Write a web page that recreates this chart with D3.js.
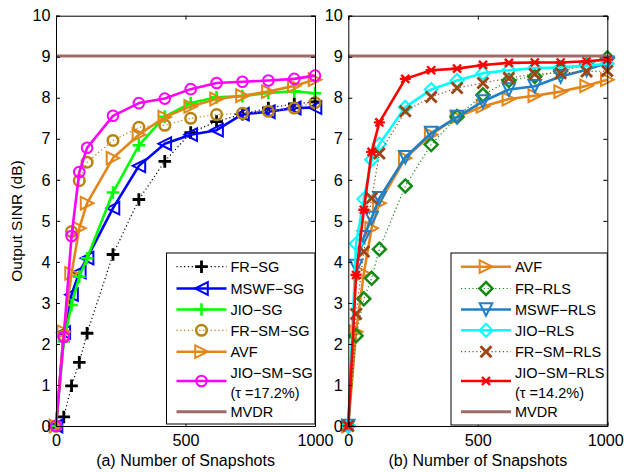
<!DOCTYPE html>
<html><head><meta charset="utf-8">
<script src="https://cdn.jsdelivr.net/npm/d3@7"></script>
<style>
html,body{margin:0;padding:0;background:#fff;}
svg{display:block;font-family:"Liberation Sans",Arial,sans-serif;}
</style></head>
<body>
<svg id="chart" width="624" height="472"></svg>
<script>
// ---------- data ----------
const snapshots = [0, 30, 60, 90, 120, 220, 320, 420, 520, 620, 720, 820, 920, 1000];
const xTicks = [0, 500, 1000];
const yTicks = [0,1,2,3,4,5,6,7,8,9,10];
const mvdrValue = 9.02;

// panel (a)
const frSG     = [0, 0.22, 0.98, 1.55, 2.26, 4.18, 5.52, 6.45, 7.15, 7.42, 7.60, 7.75, 7.85, 7.90];
const mswfSG   = [0, 2.28, 3.20, 3.75, 4.09, 5.31, 6.34, 6.88, 7.10, 7.21, 7.60, 7.66, 7.75, 7.76];
const jioSG    = [0, 2.06, 2.95, 3.64, 4.09, 5.69, 6.84, 7.54, 7.87, 8.01, 8.04, 8.12, 8.16, 8.11];
const frSmSG   = [0, 2.20, 4.74, 5.98, 6.43, 6.96, 7.28, 7.33, 7.50, 7.59, 7.62, 7.67, 7.75, 7.88];
const avf      = [0, 2.30, 3.72, 4.82, 5.43, 6.53, 7.10, 7.53, 7.79, 7.97, 8.05, 8.15, 8.29, 8.44];
const jioSmSG  = [0, 2.17, 4.63, 6.19, 6.78, 7.56, 7.87, 7.98, 8.21, 8.36, 8.39, 8.42, 8.46, 8.54];

// panel (b)
const frRLS    = [0, 2.20, 3.10, 3.60, 4.31, 5.85, 6.86, 7.54, 8.07, 8.42, 8.52, 8.65, 8.80, 8.97];
const mswfRLS  = [0, 3.90, 4.60, 5.07, 5.55, 6.55, 7.14, 7.53, 7.91, 8.20, 8.28, 8.52, 8.68, 8.85];
const jioRLS   = [0, 4.44, 5.53, 6.49, 6.87, 7.77, 8.20, 8.42, 8.60, 8.67, 8.72, 8.74, 8.78, 8.83];
const frSmRLS  = [0, 2.73, 4.25, 5.55, 6.64, 7.67, 8.02, 8.24, 8.36, 8.48, 8.58, 8.60, 8.64, 8.65];
const jioSmRLS = [0, 3.68, 5.27, 6.68, 7.40, 8.46, 8.67, 8.71, 8.80, 8.85, 8.86, 8.86, 8.89, 8.93];

const legendA = ["FR\u2212SG","MSWF\u2212SG","JIO\u2212SG","FR\u2212SM\u2212SG","AVF","JIO\u2212SM\u2212SG|(\u03c4 =17.2%)","MVDR"];
const legendB = ["AVF","FR\u2212RLS","MSWF\u2212RLS","JIO\u2212RLS","FR\u2212SM\u2212RLS","JIO\u2212SM\u2212RLS|(\u03c4 =14.2%)","MVDR"];
const xLabels = ["(a) Number of Snapshots","(b) Number of Snapshots"];
const yLabel = "Output SINR (dB)";

// ---------- styles ----------
const C = {black:"#000000", blue:"#0000ff", green:"#00ff00", gold:"#b8820f", orange:"#e2861a",
  magenta:"#ff00ff", mvdr:"#9e6b68", dgreen:"#138a13", mblue:"#1f80c8", cyan:"#00ffff",
  brown:"#9c4616", red:"#ff0000"};

const seriesA = [
  {vals:frSG,    color:C.black,  dash:true,  marker:"plus",  mw:2.8},
  {vals:mswfSG,  color:C.blue,   dash:false, marker:"tleft", mw:2},
  {vals:jioSG,   color:C.green,  dash:false, marker:"plus",  mw:2.5},
  {vals:frSmSG,  color:C.gold,   dash:true,  marker:"circle",mw:2.5},
  {vals:avf,     color:C.orange, dash:false, marker:"tright",mw:2},
  {vals:jioSmSG, color:C.magenta,dash:false, marker:"circle",mw:2},
];
const seriesB = [
  {vals:avf,     color:C.orange, dash:false, marker:"tright",mw:2},
  {vals:frRLS,   color:C.dgreen, dash:true,  marker:"diamond",mw:2.5},
  {vals:mswfRLS, color:C.mblue,  dash:false, marker:"tdown", mw:2},
  {vals:jioRLS,  color:C.cyan,   dash:false, marker:"diamond",mw:2},
  {vals:frSmRLS, color:C.brown,  dash:true,  marker:"cross", mw:2.8},
  {vals:jioSmRLS,color:C.red,    dash:false, marker:"star",  mw:2.4},
];

function markerPath(type){
  const s=6.3;
  switch(type){
    case "plus": return `M${-s},0L${s},0M0,${-s}L0,${s}`;
    case "cross": {const t=5.5; return `M${-t},${-t}L${t},${t}M${-t},${t}L${t},${-t}`;}
    case "star": {const t=5.5,u=4; return `M${-u},${-u}L${u},${u}M${-u},${u}L${u},${-u}M${-t},0L${t},0`;}
    case "tleft": return `M${-s},0L${s},${-s}L${s},${s}Z`;
    case "tright": return `M${s},0L${-s},${-s}L${-s},${s}Z`;
    case "tdown": return `M0,${s}L${-s},${-s}L${s},${-s}Z`;
    case "diamond": {const d=6.5; return `M0,${-d}L${d},0L0,${d}L${-d},0Z`;}
  }
  return "";
}
function drawMarker(g,type,x,y,color,mw){
  if(type==="circle"){
    g.append("circle").attr("cx",x).attr("cy",y).attr("r",5.3)
      .attr("fill","none").attr("stroke",color).attr("stroke-width",mw);
  } else {
    g.append("path").attr("d",markerPath(type)).attr("transform",`translate(${x},${y})`)
      .attr("fill","none").attr("stroke",color).attr("stroke-width",mw).attr("stroke-linejoin","miter");
  }
}

const svg = d3.select("#chart");
const y = d3.scaleLinear().domain([0,10]).range([426,15.7]);

const panels = [
  {x: d3.scaleLinear().domain([0,1000]).range([56,315]), series:seriesA, legend:legendA, label:xLabels[0],
   box:{x0:166.5,x1:315,y0:253,y1:424}},
  {x: d3.scaleLinear().domain([0,1000]).range([348.3,607.3]), series:seriesB, legend:legendB, label:xLabels[1],
   box:{x0:451,x1:607.3,y0:253,y1:425}},
];

panels.forEach((p,pi)=>{
  const g = svg.append("g");
  const [xa,xb] = p.x.range(), [ya,yb]=[y(0),y(10)];
  g.append("rect").attr("x",xa).attr("y",yb).attr("width",xb-xa).attr("height",ya-yb).attr("fill","#fff");
  const line = d3.line().x((d,i)=>p.x(snapshots[i])).y(d=>y(d));
  p.series.forEach(s=>{
    const path = g.append("path").datum(s.vals).attr("d",line).attr("fill","none")
      .attr("stroke",s.color);
    if(s.dash) path.attr("stroke-width",1.2).attr("stroke-dasharray","1.2,2.6");
    else path.attr("stroke-width",2.6).attr("stroke-linejoin","round");
    s.vals.forEach((v,i)=>drawMarker(g,s.marker,p.x(snapshots[i]),y(v),s.color,s.mw));
  });
  g.append("path").datum([0,1000]).attr("d",d3.line().x(d=>p.x(d)).y(()=>y(mvdrValue)))
    .attr("stroke",C.mvdr).attr("stroke-width",3).attr("fill","none");

  const tl=4;
  const axB = d3.axisBottom(p.x).tickValues(xTicks).tickSize(-tl).tickPadding(8).tickFormat(d3.format("d"));
  const axT = d3.axisTop(p.x).tickValues(xTicks).tickSize(-tl).tickFormat("");
  const axL = d3.axisLeft(y).tickValues(yTicks).tickSize(-tl).tickPadding(5.5).tickFormat(d3.format("d"));
  const axR = d3.axisRight(y).tickValues(yTicks).tickSize(-tl).tickFormat("");
  const ax = [
    g.append("g").attr("transform",`translate(0,${ya})`).call(axB),
    g.append("g").attr("transform",`translate(0,${yb})`).call(axT),
    g.append("g").attr("transform",`translate(${xa},0)`).call(axL),
    g.append("g").attr("transform",`translate(${xb},0)`).call(axR),
  ];
  ax.forEach(a=>{
    a.select(".domain").attr("stroke","#000").attr("stroke-width",1);
    a.selectAll(".tick line").attr("stroke","#000");
    a.selectAll("text").attr("font-size",16.2).attr("fill","#000")
      .attr("font-family","'Liberation Sans',Arial,sans-serif");
  });
  if(pi===1){
    // keep the last tick label inside the 624px frame
    ax[0].selectAll(".tick text").filter(d=>d===1000).attr("text-anchor","end").attr("dx",0).attr("x",16);
  }

  g.append("text").attr("x",(xa+xb)/2).attr("y",465.5).attr("text-anchor","middle")
    .attr("font-size",16).text(p.label);

  const b=p.box;
  const lg = svg.append("g");
  lg.append("rect").attr("x",b.x0).attr("y",b.y0).attr("width",b.x1-b.x0).attr("height",b.y1-b.y0)
    .attr("fill","#fff").attr("stroke","#000").attr("stroke-width",1);
  const rowsY = [266.7, 288.5, 309.5, 330.3, 351.7, 381, 411.7];
  const sx0 = b.x0+10, sx1 = b.x0+60, tx = b.x0+64;
  const entries = p.series.map(s=>({color:s.color,dash:s.dash,marker:s.marker,mw:s.mw}))
    .concat([{color:C.mvdr,dash:false,marker:null,mvdr:true}]);
  entries.forEach((e,i)=>{
    const ry=rowsY[i];
    const ln = lg.append("line").attr("x1",sx0).attr("x2",sx1).attr("y1",ry).attr("y2",ry).attr("stroke",e.color);
    if(e.mvdr) ln.attr("stroke-width",3);
    else if(e.dash) ln.attr("stroke-width",1.2).attr("stroke-dasharray","1.2,2.6");
    else ln.attr("stroke-width",2.6);
    if(e.marker) drawMarker(lg,e.marker,(sx0+sx1)/2,ry,e.color,e.mw);
    const parts = p.legend[i].split("|");
    if(parts.length===1){
      lg.append("text").attr("x",tx).attr("y",ry+5.2).attr("font-size",14.5).text(parts[0]);
    } else {
      lg.append("text").attr("x",tx).attr("y",ry-3.5).attr("font-size",14.5).text(parts[0]);
      lg.append("text").attr("x",tx).attr("y",ry+16.5).attr("font-size",14.5).text(parts[1]);
    }
  });
});

svg.append("text").attr("transform","translate(21.5,221) rotate(-90)").attr("text-anchor","middle")
  .attr("font-size",15.5).text(yLabel);
</script>
</body></html>
